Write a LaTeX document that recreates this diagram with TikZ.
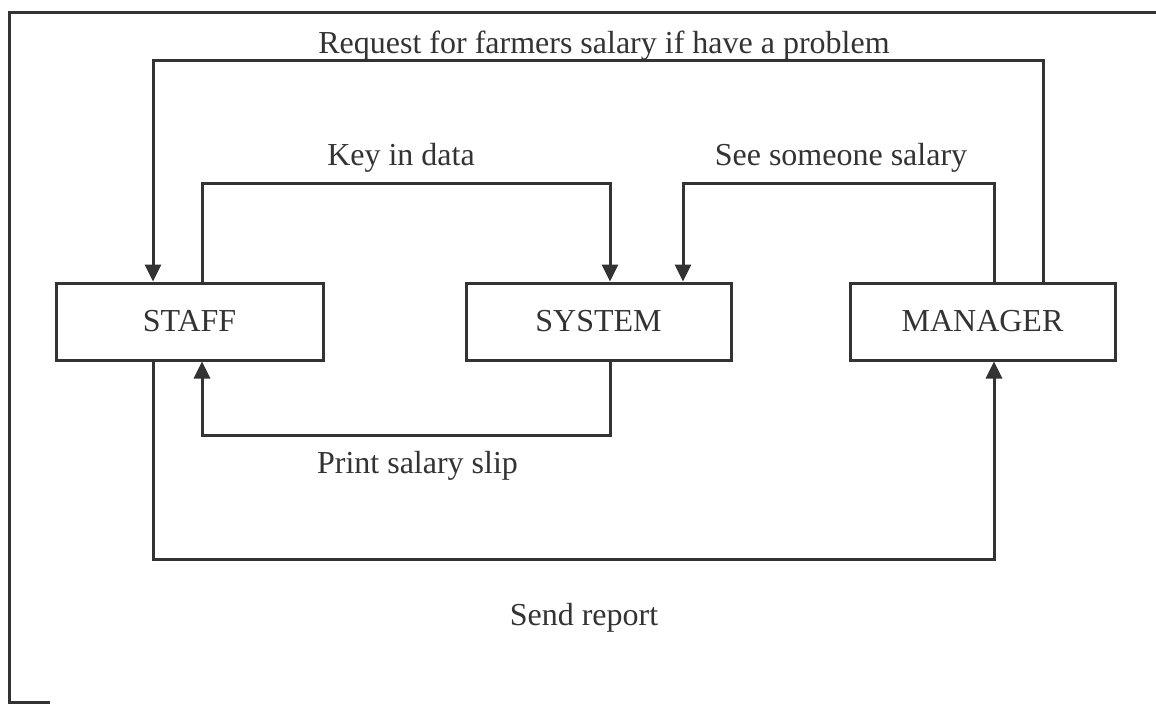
\documentclass[tikz,border=0pt]{standalone}
\usepackage{fontspec}
\setmainfont{Liberation Serif}
\usetikzlibrary{arrows.meta}
\definecolor{ink}{HTML}{333333}
\begin{document}
\begin{tikzpicture}[x=1pt,y=-1pt,
  line width=3pt, draw=ink,
  every node/.style={font=\fontsize{32}{38}\selectfont, text=ink},
  box/.style={draw=ink, line width=3pt, minimum width=265pt, minimum height=77pt, inner sep=0pt},
  lbl/.style={anchor=base, inner sep=0pt},
  arr/.style={draw=ink, line width=3pt, -{Triangle[length=17pt,width=16pt]}},
  ln/.style={draw=ink, line width=3pt}]
\useasboundingbox (0,0) rectangle (1156,704);
% frame
\coordinate (f1) at (1156,12);
\coordinate (f2) at (9,12);
\coordinate (f3) at (9,702);
\coordinate (f4) at (50,702);
\draw[ln] (f1) -- (f2) -- (f3) -- (f4);
% boxes
\node[box, minimum width=267pt] (staff) at (189.5,321.5) {STAFF};
\node[box] (system) at (598.5,321.5) {SYSTEM};
\node[box] (manager) at (982.5,321.5) {MANAGER};
% corner coordinates
\coordinate (rq) at (153,60);
\coordinate (kd) at (610,183);
\coordinate (ss) at (683,183);
\coordinate (ps) at (202,435);
\coordinate (sr) at (994,559);
% connectors
\draw[arr] ([xshift=60.5pt]manager.north) |- (rq) -- ([xshift=-36.5pt]staff.north);
\draw[arr] ([xshift=12.5pt]staff.north) |- (kd) -- ([xshift=11.5pt]system.north);
\draw[arr] ([xshift=11.5pt]manager.north) |- (ss) -- ([xshift=84.5pt]system.north);
\draw[arr] ([xshift=11.5pt]system.south) |- (ps) -- ([xshift=12.5pt]staff.south);
\draw[arr] ([xshift=-36.5pt]staff.south) |- (sr) -- ([xshift=11.5pt]manager.south);
% labels
\node[lbl] (lrq) at (604,53) {Request for farmers salary if have a problem};
\node[lbl] (lkd) at (401,165) {Key in data};
\node[lbl] (lss) at (841,165) {See someone salary};
\node[lbl] (lps) at (417.5,473) {Print salary slip};
\node[lbl] (lsr) at (584,625) {Send report};
\end{tikzpicture}
\end{document}
